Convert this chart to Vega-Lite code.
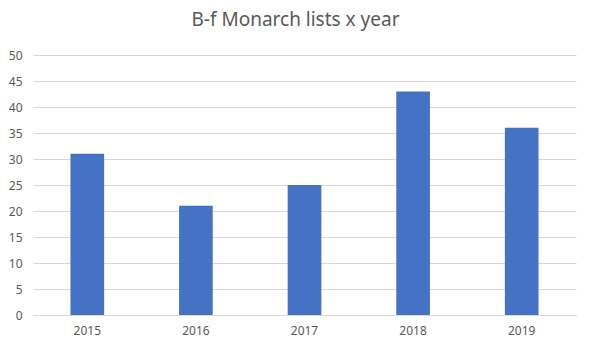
{
  "$schema": "https://vega.github.io/schema/vega-lite/v6.json",
  "width": 543,
  "height": 260,
  "autosize": {"type": "none"},
  "padding": {"left": 33, "top": 55, "right": 17, "bottom": 40},
  "background": "white",
  "title": {
    "text": "B-f Monarch lists x year",
    "font": "Noto Sans",
    "fontSize": 19,
    "fontWeight": "normal",
    "color": "#595959",
    "anchor": "middle",
    "dx": -9,
    "offset": 19
  },
  "data": {
    "values": [
      {"year": "2015", "lists": 31},
      {"year": "2016", "lists": 21},
      {"year": "2017", "lists": 25},
      {"year": "2018", "lists": 43},
      {"year": "2019", "lists": 36}
    ]
  },
  "mark": {"type": "bar", "color": "#4472C4", "width": {"band": 0.31}},
  "encoding": {
    "x": {
      "field": "year",
      "type": "ordinal",
      "scale": {"paddingInner": 0, "paddingOuter": 0},
      "axis": {
        "title": null,
        "labelAngle": 0,
        "ticks": false,
        "domainColor": "#d9d9d9",
        "labelFont": "Noto Sans",
        "labelFontSize": 12,
        "labelColor": "#595959",
        "labelPadding": 10
      }
    },
    "y": {
      "field": "lists",
      "type": "quantitative",
      "scale": {"domain": [0, 50], "nice": false},
      "axis": {
        "title": null,
        "values": [0, 5, 10, 15, 20, 25, 30, 35, 40, 45, 50],
        "ticks": false,
        "domain": false,
        "gridColor": "#d9d9d9",
        "labelFont": "Noto Sans",
        "labelFontSize": 12,
        "labelColor": "#595959",
        "labelPadding": 11
      }
    }
  },
  "config": {"view": {"stroke": null}}
}
